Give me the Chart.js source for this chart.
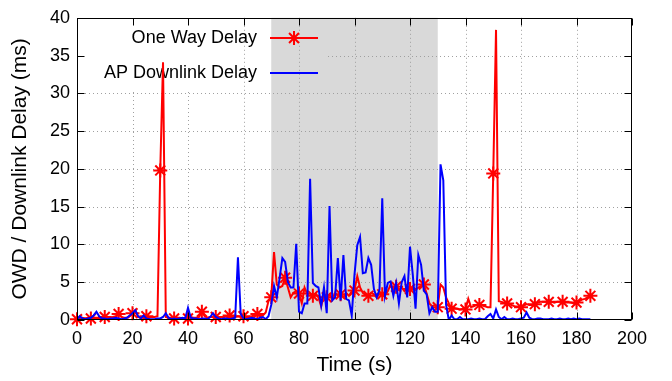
<!DOCTYPE html>
<html><head><meta charset="utf-8">
<script src="https://cdn.jsdelivr.net/npm/chart.js@4/dist/chart.umd.min.js"></script>
<style>html,body{margin:0;padding:0;background:#fff}canvas{display:block}</style>
</head><body>
<canvas id="c" width="672" height="381"></canvas>
<script>
// ---- data ----
const timeSec = Array.from({length: 186}, (_, i) => i);   // sample times (s), 1 s step
const oneWayDelay = [
  0.1,0.2,0.3,0.2,0.3,0.2,0.3,0.3,0.2,0.3,
  0.4,0.3,0.3,0.4,0.5,0.8,0.4,0.3,0.3,0.5,
  0.9,1.3,0.4,0.3,0.3,0.5,0.4,0.4,0.4,0.5,
  19.8,34.1,0.4,0.3,0.3,0.2,0.3,0.3,0.2,0.3,
  0.2,0.4,0.3,0.3,0.4,1.1,0.5,0.3,0.4,0.4,
  0.4,0.3,0.4,0.4,0.5,0.6,0.4,0.4,0.5,0.4,
  0.5,0.4,0.4,0.5,0.6,0.8,0.5,0.6,1.0,2.5,
  3.0,9.0,4.7,4.3,4.5,5.6,4.3,3.0,3.6,3.8,
  3.5,2.2,4.3,3.4,3.5,3.2,3.5,3.0,1.8,3.5,
  3.0,3.4,2.7,3.6,3.2,3.4,3.0,3.6,3.2,3.8,
  3.9,5.8,4.3,3.6,3.3,3.2,3.6,3.4,3.0,3.5,
  3.4,3.3,3.8,4.7,4.2,4.4,4.0,4.3,3.8,4.2,
  4.1,4.4,4.0,4.3,4.5,4.7,3.5,2.2,1.8,2.0,
  1.7,4.7,4.3,3.0,2.2,1.5,1.6,1.5,1.4,1.5,
  1.4,2.8,1.7,1.8,2.0,2.0,1.9,1.8,1.7,1.7,
  19.4,38.4,2.5,2.4,2.3,2.2,2.1,1.9,1.8,1.8,
  1.7,1.9,2.1,2.0,2.0,2.1,2.3,2.4,2.4,2.4,
  2.4,2.4,2.3,2.4,2.4,2.4,2.3,2.3,2.3,2.2,
  2.3,2.5,2.7,2.8,3.0,3.2
];
const apDownlinkDelay = [
  0.1,0.5,0.2,0.1,0.2,0.3,0.6,1.1,0.5,0.2,
  0.2,0.1,0.2,0.2,0.3,0.2,0.1,0.2,0.3,0.6,
  0.9,1.3,0.5,0.2,0.6,0.2,0.1,0.1,0.1,0.2,
  0.2,0.4,0.9,0.3,0.1,0.2,0.1,0.2,0.3,0.2,
  1.6,0.3,0.2,0.2,0.1,0.2,0.2,0.1,0.4,0.9,
  0.4,0.2,0.1,0.2,0.2,0.1,0.2,0.3,8.3,0.8,
  0.2,0.1,0.2,0.3,0.2,0.1,0.3,0.4,0.1,0.5,
  2.0,4.5,3.0,5.5,8.2,7.7,5.0,4.3,4.3,10.1,
  1.1,0.9,2.2,2.2,18.7,4.9,4.5,4.3,1.9,4.3,
  0.9,15.1,2.6,3.0,8.2,2.6,8.6,2.8,2.6,0.6,
  6.0,9.9,11.0,6.2,6.3,8.2,7.3,4.1,3.0,4.0,
  16.1,3.2,4.9,5.1,3.2,4.9,2.2,5.0,5.8,3.0,
  9.7,6.0,1.5,8.6,7.3,3.9,3.4,0.9,1.7,1.1,
  1.1,20.6,18.5,2.0,0.0,0.6,0.1,0.1,0.4,0.1,
  0.1,0.1,0.2,0.1,0.1,0.2,0.1,0.1,0.5,0.8,
  0.2,1.4,0.4,0.1,0.4,0.1,0.1,0.2,0.1,0.1,
  0.2,0.3,1.0,0.3,0.1,0.1,0.2,0.2,0.1,0.1,
  0.1,0.2,0.1,0.1,0.2,0.1,0.1,0.2,0.1,0.2,
  0.1,0.2,0.1,0.1,0.1,0.1
];
const xTicks = [0,20,40,60,80,100,120,140,160,180,200];
const yTicks = [0,5,10,15,20,25,30,35,40];
const shadedInterval = [70, 130];
const seriesNames = ['One Way Delay', 'AP Downlink Delay'];
const xTitle = 'Time (s)';
const yTitle = 'OWD / Downlink Delay (ms)';
const markerEvery = 5;

// ---- styling ----
const FONT = '"Liberation Sans", Arial, sans-serif';
const RED = '#ff0000', BLUE = '#0000ff';
const STAR_R = 7;

function seg(ctx, x0, y0, x1, y1){ ctx.beginPath(); ctx.moveTo(x0,y0); ctx.lineTo(x1,y1); ctx.stroke(); }

const framePlugin = {
  id: 'frame',
  beforeDatasetsDraw(chart){
    const {ctx, chartArea:a, scales:{x, y}} = chart;
    ctx.save();
    // shaded interval
    const bx0 = x.getPixelForValue(shadedInterval[0]), bx1 = x.getPixelForValue(shadedInterval[1]);
    ctx.fillStyle = '#d9d9d9';
    ctx.fillRect(bx0, a.top, bx1 - bx0, a.bottom - a.top);
    // dotted grid (key box hides part of it)
    const keyRight = 328, keyBottom = 92, keyVertRight = 215;
    ctx.strokeStyle = '#a0a0a0'; ctx.lineWidth = 1; ctx.setLineDash([1, 3]);
    yTicks.forEach(v => {
      if (v === yTicks[0] || v === yTicks[yTicks.length-1]) return;
      const py = Math.round(y.getPixelForValue(v)) + 0.5;
      seg(ctx, py < keyBottom ? keyRight : a.left, py, a.right, py);
    });
    xTicks.forEach(v => {
      if (v === xTicks[0] || v === xTicks[xTicks.length-1]) return;
      const px = Math.round(x.getPixelForValue(v)) + 0.5;
      seg(ctx, px, px < keyVertRight ? keyBottom : a.top, px, a.bottom);
    });
    ctx.setLineDash([]);
    // key
    ctx.font = '18px ' + FONT; ctx.fillStyle = '#000'; ctx.textAlign = 'right'; ctx.textBaseline = 'middle';
    const rows = [38, 73];
    ctx.fillText(seriesNames[0], 257, rows[0]);
    ctx.fillText(seriesNames[1], 257, rows[1]);
    ctx.lineWidth = 2;
    ctx.strokeStyle = BLUE; seg(ctx, 270, rows[1], 318, rows[1]);
    ctx.strokeStyle = RED; seg(ctx, 270, rows[0], 318, rows[0]);
    ctx.fillStyle = RED;
    Chart.helpers.drawPoint(ctx, {pointStyle:'star', radius:STAR_R, borderWidth:2}, 294, rows[0]);
    ctx.restore();
  },
  afterDatasetsDraw(chart){
    const {ctx, chartArea:a, scales:{x, y}} = chart;
    ctx.save();
    ctx.strokeStyle = '#000'; ctx.lineWidth = 1;
    const L = Math.round(a.left)+0.5, R = Math.round(a.right)-0.5, T = Math.round(a.top)+0.5, B = Math.round(a.bottom)-0.5;
    ctx.strokeRect(L, T, R - L, B - T);
    const tl = 7;
    yTicks.forEach(v => {
      const py = Math.round(y.getPixelForValue(v)) + 0.5;
      seg(ctx, L, py, L + tl, py); seg(ctx, R, py, R - tl, py);
    });
    xTicks.forEach(v => {
      const px = Math.round(x.getPixelForValue(v)) + 0.5;
      seg(ctx, px, B, px, B - tl); seg(ctx, px, T, px, T + tl);
    });
    ctx.restore();
  }
};

new Chart(document.getElementById('c'), {
  type: 'line',
  data: {
    datasets: [
      {
        label: seriesNames[1],
        data: apDownlinkDelay.map((v, i) => ({x: timeSec[i], y: v})),
        borderColor: BLUE, borderWidth: 2, pointRadius: 0, tension: 0, order: 0, fill: false
      },
      {
        label: seriesNames[0],
        data: oneWayDelay.map((v, i) => ({x: timeSec[i], y: v})),
        borderColor: RED, backgroundColor: RED, borderWidth: 2, tension: 0, order: 1, fill: false,
        pointStyle: 'star',
        pointRadius: ctx => (ctx.dataIndex % markerEvery === 0 ? STAR_R : 0),
        pointBorderWidth: 2, pointBorderColor: RED, clip: false
      }
    ]
  },
  options: {
    responsive: false, animation: false, devicePixelRatio: 1,
    layout: {padding: {left: 0, right: 40, top: 10, bottom: 0}},
    plugins: {legend: {display: false}, tooltip: {enabled: false}},
    scales: {
      x: {
        type: 'linear', min: 0, max: 200,
        afterBuildTicks: s => { s.ticks = xTicks.map(v => ({value: v})); },
        afterFit: s => { s.height = 61; },
        grid: {display: false, drawTicks: false},
        border: {display: false},
        ticks: {color: '#000', font: {family: FONT, size: 18}, padding: 8, maxRotation: 0, autoSkip: false},
        title: {display: true, text: xTitle, color: '#000', font: {family: FONT, size: 21}, padding: {top: 0, bottom: 3}}
      },
      y: {
        type: 'linear', min: 0, max: 40,
        afterBuildTicks: s => { s.ticks = yTicks.map(v => ({value: v})); },
        afterFit: s => { s.width = 77; },
        grid: {display: false, drawTicks: false},
        border: {display: false},
        ticks: {color: '#000', font: {family: FONT, size: 18}, padding: 7, autoSkip: false},
        title: {display: true, text: yTitle, color: '#000', font: {family: FONT, size: 21}, padding: {top: 8, bottom: 0}}
      }
    }
  },
  plugins: [framePlugin]
});
</script>
</body></html>
